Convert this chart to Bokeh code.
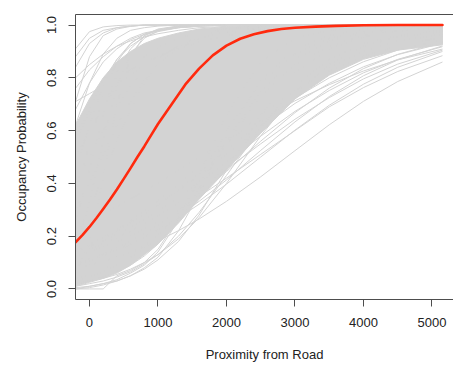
from bokeh.plotting import figure
from bokeh.models import Range1d, FixedTicker, LinearAxis, CustomJSTickFormatter
from bokeh.embed import file_html
from bokeh.resources import INLINE

# ---------------- data ----------------
grid_x = [-204, 0, 200, 400, 600, 800, 1000, 1300, 1600, 2000, 2500, 3000, 3500, 4000, 4500, 5153]

# dense core of the posterior curves (upper and lower edge of the solid grey mass)
core_upper = [0.62, 0.72, 0.80, 0.86, 0.90, 0.93, 0.95, 0.97, 0.985, 0.995, 1.0, 1.0, 1.0, 1.0, 1.0, 1.0]
core_lower = [0.01, 0.025, 0.04, 0.06, 0.09, 0.13, 0.17, 0.25, 0.34, 0.45, 0.59, 0.72, 0.81, 0.87, 0.905, 0.925]

# individual posterior curves at the upper-left fringe
upper_fan = [
    [0.91, 0.975, 0.993, 0.998, 1, 1, 1, 1, 1, 1, 1, 1, 1, 1, 1, 1],
    [0.88, 0.95, 0.98, 0.99, 0.996, 1, 1, 1, 1, 1, 1, 1, 1, 1, 1, 1],
    [0.71, 0.88, 0.96, 0.985, 0.995, 1, 1, 1, 1, 1, 1, 1, 1, 1, 1, 1],
    [0.80, 0.85, 0.89, 0.92, 0.94, 0.955, 0.967, 0.98, 0.99, 0.995, 1, 1, 1, 1, 1, 1],
    [0.71, 0.74, 0.77, 0.80, 0.83, 0.86, 0.88, 0.91, 0.935, 0.96, 0.98, 0.99, 0.996, 1, 1, 1],
    [0.62, 0.78, 0.89, 0.95, 0.98, 0.99, 0.996, 1, 1, 1, 1, 1, 1, 1, 1, 1],
    [0.55, 0.68, 0.79, 0.87, 0.92, 0.955, 0.975, 0.99, 0.996, 1, 1, 1, 1, 1, 1, 1],
    [0.45, 0.62, 0.77, 0.87, 0.93, 0.965, 0.98, 0.993, 1, 1, 1, 1, 1, 1, 1, 1],
    [0.35, 0.55, 0.73, 0.86, 0.93, 0.965, 0.983, 0.995, 1, 1, 1, 1, 1, 1, 1, 1],
    [0.25, 0.45, 0.66, 0.82, 0.91, 0.96, 0.98, 0.994, 1, 1, 1, 1, 1, 1, 1, 1],
    [0.15, 0.33, 0.56, 0.77, 0.89, 0.95, 0.978, 0.993, 1, 1, 1, 1, 1, 1, 1, 1],
    [0.06, 0.18, 0.42, 0.70, 0.88, 0.96, 0.985, 0.997, 1, 1, 1, 1, 1, 1, 1, 1],
    [0.60, 0.66, 0.72, 0.77, 0.81, 0.85, 0.88, 0.92, 0.95, 0.97, 0.985, 0.993, 0.997, 1, 1, 1],
    [0.50, 0.60, 0.69, 0.77, 0.83, 0.88, 0.915, 0.95, 0.97, 0.985, 0.995, 1, 1, 1, 1, 1],
    [0.40, 0.50, 0.60, 0.69, 0.77, 0.83, 0.875, 0.92, 0.95, 0.975, 0.99, 0.996, 1, 1, 1, 1],
    [0.30, 0.40, 0.51, 0.62, 0.71, 0.79, 0.85, 0.91, 0.95, 0.975, 0.99, 0.996, 1, 1, 1, 1],
    [0.20, 0.30, 0.43, 0.56, 0.68, 0.78, 0.85, 0.92, 0.96, 0.985, 0.995, 1, 1, 1, 1, 1],
    [0.68, 0.78, 0.86, 0.91, 0.945, 0.965, 0.978, 0.99, 0.995, 1, 1, 1, 1, 1, 1, 1],
    [0.84, 0.93, 0.97, 0.99, 0.996, 1, 1, 1, 1, 1, 1, 1, 1, 1, 1, 1],
    [0.76, 0.83, 0.88, 0.92, 0.95, 0.97, 0.98, 0.99, 0.996, 1, 1, 1, 1, 1, 1, 1],
]

# individual posterior curves at the lower-right fringe
lower_fan = [
    [0.078, 0.091, 0.105, 0.121, 0.139, 0.16, 0.182, 0.221, 0.265, 0.332, 0.425, 0.524, 0.622, 0.711, 0.786, 0.86],
    [0.123, 0.141, 0.159, 0.18, 0.20, 0.228, 0.255, 0.30, 0.35, 0.42, 0.51, 0.60, 0.69, 0.763, 0.824, 0.884],
    [0.131, 0.151, 0.171, 0.195, 0.219, 0.248, 0.277, 0.325, 0.377, 0.453, 0.55, 0.643, 0.725, 0.796, 0.852, 0.905],
    [0.139, 0.16, 0.182, 0.207, 0.235, 0.263, 0.295, 0.348, 0.403, 0.48, 0.579, 0.673, 0.752, 0.819, 0.87, 0.918],
    [0.149, 0.171, 0.196, 0.223, 0.252, 0.283, 0.317, 0.373, 0.43, 0.51, 0.61, 0.703, 0.779, 0.842, 0.888, 0.931],
    [0.142, 0.165, 0.19, 0.218, 0.25, 0.283, 0.319, 0.377, 0.44, 0.525, 0.63, 0.723, 0.80, 0.861, 0.905, 0.943],
    [0.146, 0.169, 0.196, 0.226, 0.259, 0.295, 0.334, 0.397, 0.463, 0.552, 0.659, 0.752, 0.826, 0.882, 0.921, 0.955],
    [0.095, 0.113, 0.132, 0.156, 0.181, 0.21, 0.242, 0.297, 0.357, 0.445, 0.56, 0.668, 0.761, 0.835, 0.889, 0.936],
    [0.09, 0.106, 0.125, 0.146, 0.169, 0.196, 0.225, 0.275, 0.332, 0.413, 0.525, 0.633, 0.729, 0.808, 0.868, 0.921],
    [0.235, 0.259, 0.285, 0.312, 0.341, 0.371, 0.40, 0.45, 0.50, 0.562, 0.641, 0.713, 0.774, 0.826, 0.868, 0.909],
    [0.096, 0.111, 0.129, 0.149, 0.171, 0.196, 0.223, 0.269, 0.321, 0.397, 0.50, 0.602, 0.696, 0.776, 0.84, 0.90],
    [0.0, 0.0, 0.0, 0.05, 0.07, 0.10, 0.15, 0.27, 0.41, 0.60, 0.78, 0.89, 0.95, 0.975, 0.99, 0.996],
    [0.005, 0.01, 0.02, 0.03, 0.05, 0.08, 0.12, 0.22, 0.36, 0.58, 0.79, 0.91, 0.96, 0.985, 0.994, 0.998],
    [0.02, 0.03, 0.045, 0.065, 0.09, 0.125, 0.17, 0.26, 0.38, 0.56, 0.75, 0.87, 0.94, 0.97, 0.987, 0.995],
    [0.03, 0.045, 0.065, 0.09, 0.12, 0.155, 0.20, 0.29, 0.40, 0.55, 0.73, 0.85, 0.92, 0.96, 0.98, 0.993],
    [0.0, 0.01, 0.02, 0.035, 0.06, 0.09, 0.14, 0.26, 0.43, 0.66, 0.86, 0.95, 0.98, 0.993, 0.997, 1.0],
    [0.04, 0.055, 0.075, 0.10, 0.13, 0.165, 0.205, 0.275, 0.355, 0.47, 0.62, 0.75, 0.84, 0.90, 0.94, 0.965],
    [0.01, 0.02, 0.03, 0.045, 0.065, 0.095, 0.13, 0.20, 0.29, 0.43, 0.61, 0.77, 0.87, 0.93, 0.96, 0.98],
    [0.02, 0.03, 0.04, 0.055, 0.075, 0.10, 0.13, 0.19, 0.27, 0.40, 0.58, 0.74, 0.85, 0.92, 0.955, 0.975],
    [0.0, 0.005, 0.015, 0.03, 0.05, 0.075, 0.11, 0.18, 0.28, 0.45, 0.66, 0.82, 0.91, 0.955, 0.978, 0.99],
]

# posterior mean curve (red)
mean_x = [-204, -100, 0, 100, 200, 300, 400, 500, 600, 700, 800, 900, 1000, 1200, 1400, 1600, 1800, 2000,
          2200, 2400, 2600, 2800, 3000, 3300, 3600, 4000, 4500, 5153]
mean_y = [0.177, 0.205, 0.235, 0.268, 0.303, 0.339, 0.377, 0.417, 0.458, 0.50, 0.54, 0.583, 0.625, 0.70, 0.775,
          0.835, 0.885, 0.922, 0.948, 0.965, 0.977, 0.985, 0.99, 0.994, 0.997, 0.999, 1.0, 1.0]

x_ticks = [0, 1000, 2000, 3000, 4000, 5000]
y_ticks = [0.0, 0.2, 0.4, 0.6, 0.8, 1.0]
x_title = "Proximity from Road"
y_title = "Occupancy Probability"

# ---------------- figure ----------------
FONT = "Liberation Sans"
GREY = "#d3d3d3"
AXIS = "#4d4d4d"
TEXT = "#222222"

p = figure(width=453, height=370, output_backend="svg", toolbar_location=None,
           x_range=Range1d(-204, 5314), y_range=Range1d(-0.04, 1.04),
           min_border_left=75, min_border_right=0, min_border_top=14, min_border_bottom=71)
p.outline_line_color = None
p.grid.visible = False
p.background_fill_color = "white"
p.border_fill_color = "white"

# dense core
p.patch(grid_x + grid_x[::-1], core_upper + core_lower[::-1],
        fill_color=GREY, line_color=GREY, line_width=1)

# individual curves
all_curves = upper_fan + lower_fan
p.multi_line([grid_x] * len(all_curves), all_curves, line_color=GREY, line_width=1)

# mean curve
p.line(mean_x, mean_y, line_color="#ff2a0e", line_width=2.6, line_join="round", line_cap="round")

# axes
for ax in (p.xaxis[0], p.yaxis[0]):
    ax.axis_line_color = AXIS
    ax.major_tick_line_color = AXIS
    ax.minor_tick_line_color = None
    ax.major_tick_in = 0
    ax.major_tick_out = 7
    ax.major_label_text_font = FONT
    ax.major_label_text_font_size = "13px"
    ax.major_label_text_color = TEXT
    ax.axis_label_text_font = FONT
    ax.axis_label_text_font_size = "13px"
    ax.axis_label_text_font_style = "normal"
    ax.axis_label_text_color = TEXT

p.xaxis[0].ticker = FixedTicker(ticks=x_ticks)
p.xaxis[0].axis_label = x_title
p.xaxis[0].major_label_standoff = 11
p.xaxis[0].axis_label_standoff = 17

p.yaxis[0].ticker = FixedTicker(ticks=y_ticks)
p.yaxis[0].formatter = CustomJSTickFormatter(code="return tick.toFixed(1);")
p.yaxis[0].major_label_orientation = "vertical"
p.yaxis[0].axis_label = y_title
p.yaxis[0].major_label_standoff = 12
p.yaxis[0].axis_label_standoff = 16

top = LinearAxis(ticker=FixedTicker(ticks=[]), axis_line_color=AXIS,
                 major_tick_line_color=None, minor_tick_line_color=None,
                 major_tick_out=0, major_tick_in=0, major_label_standoff=0,
                 major_label_text_font_size="0px", axis_label=None)
p.add_layout(top, "above")

open("out.html", "w").write(file_html(p, INLINE))
